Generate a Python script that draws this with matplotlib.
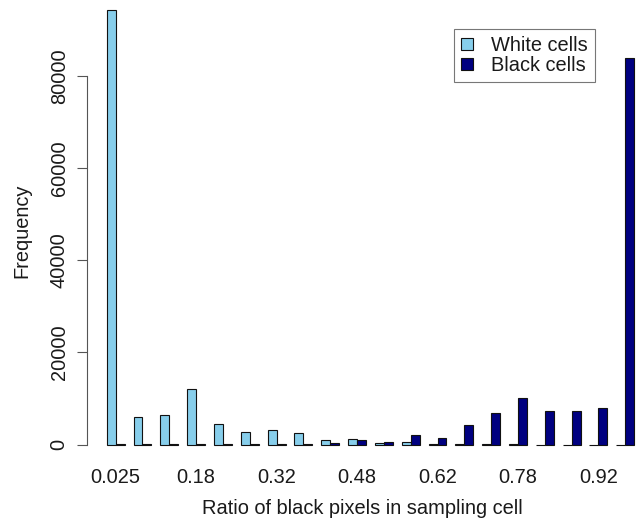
import numpy as np
import matplotlib
matplotlib.use("Agg")
import matplotlib.pyplot as plt
from matplotlib.patches import Patch

plt.rcParams['font.family'] = ['Liberation Sans', 'DejaVu Sans']
plt.rcParams['text.color'] = '#1a1a1a'
plt.rcParams['xtick.labelcolor'] = '#1a1a1a'
plt.rcParams['ytick.labelcolor'] = '#1a1a1a'
plt.rcParams['axes.labelcolor'] = '#1a1a1a'

# bin mid points (labels shown every third bin, R-style rounding)
bins = ["0.025", "0.075", "0.12", "0.18", "0.22", "0.28", "0.32", "0.38", "0.42", "0.48",
        "0.52", "0.58", "0.62", "0.68", "0.72", "0.78", "0.82", "0.88", "0.92", "0.98"]
white_cells = [94300, 6100, 6400, 12100, 4500, 2700, 3100, 2500, 900, 1250,
               250, 600, 150, 80, 50, 30, 20, 20, 20, 10]
black_cells = [100, 60, 60, 80, 100, 120, 150, 200, 300, 1000,
               500, 2100, 1500, 4200, 6900, 10100, 7400, 7400, 7900, 84000]
labels = ["White cells", "Black cells"]
colors = ["#87CEEB", "#000080"]

FS = 14.4
W, H = 638, 527
fig = plt.figure(figsize=(W / 100, H / 100), dpi=100)
ax = fig.add_axes([86.7 / W, (H - 462) / H, 1 - 86.7 / W, 462 / H])

# R barplot(beside=TRUE): each group = 1 gap + 2 bars of width 1
idx = np.arange(len(bins))
x_white = 3 * idx + 1.5
x_black = 3 * idx + 2.5
ax.bar(x_white, white_cells, width=1, color=colors[0], edgecolor="#111111", linewidth=0.8)
ax.bar(x_black, black_cells, width=1, color=colors[1], edgecolor="#111111", linewidth=0.8)

ax.set_xlim(-1.24, -1.24 + (W - 86.7) / 8.94)
ax.set_ylim(-3773, 96500)

for s in ["top", "right", "bottom"]:
    ax.spines[s].set_visible(False)
ax.spines["left"].set_bounds(0, 80000)
ax.spines["left"].set_color("#555555")

ax.set_yticks([0, 20000, 40000, 60000, 80000])
ax.set_yticklabels(["0", "20000", "40000", "60000", "80000"], rotation=90, va="center")
ax.tick_params(axis="y", length=7, color="#555555", labelsize=FS, pad=6)

show = idx[::3]
ax.set_xticks(3 * show + 2)
ax.set_xticklabels([bins[i] for i in show])
ax.tick_params(axis="x", length=0, labelsize=FS, pad=4)

ax.set_xlabel("Ratio of black pixels in sampling cell", fontsize=FS, labelpad=9)
ax.set_ylabel("Frequency", fontsize=FS, labelpad=13)

handles = [Patch(facecolor=c, edgecolor="#111111", linewidth=0.8) for c in colors]
leg = ax.legend(handles, labels, loc="upper left", bbox_to_anchor=(454 / W, 1 - 29 / H),
                bbox_transform=fig.transFigure, fontsize=FS, fancybox=False,
                handlelength=0.6, handleheight=0.6, handletextpad=0.9,
                borderpad=0.35, labelspacing=0.05, borderaxespad=0)
leg.get_frame().set_edgecolor("#555555")
leg.get_frame().set_linewidth(0.8)

fig.savefig("out.png", dpi=100)
